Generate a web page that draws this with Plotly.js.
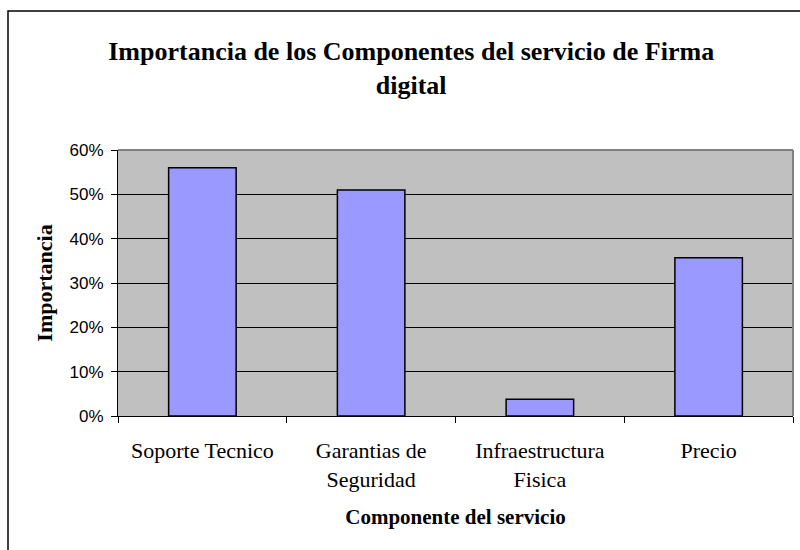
<!DOCTYPE html>
<html>
<head>
<meta charset="utf-8">
<script src="https://cdn.plot.ly/plotly-3.0.1.min.js"></script>
<style>
html,body{margin:0;padding:0;background:#fff;}
#chart{width:800px;height:550px;}
</style>
</head>
<body>
<div id="chart"></div>
<script>
var categories = ["Soporte Tecnico", "Garantias de<br>Seguridad", "Infraestructura<br>Fisica", "Precio"];
var values = [0.56, 0.51, 0.038, 0.357];
var yTickVals = [0, 0.1, 0.2, 0.3, 0.4, 0.5, 0.6];
var yTickText = ["0%", "10%", "20%", "30%", "40%", "50%", "60%"];

var serif = "Liberation Serif, Times New Roman, serif";
var sans = "Liberation Sans, Arial, sans-serif";

var trace = {
  type: "bar",
  x: categories,
  y: values,
  marker: {color: "#9999FF", line: {color: "#000000", width: 1.5}},
  hoverinfo: "skip"
};

var layout = {
  width: 800,
  height: 550,
  margin: {l: 118, r: 7, t: 150, b: 134, pad: 0},
  paper_bgcolor: "#ffffff",
  plot_bgcolor: "#C0C0C0",
  showlegend: false,
  bargap: 0.6,
  title: {
    text: "<b>Importancia de los Componentes del servicio de Firma<br>digital</b>",
    font: {family: serif, size: 26, color: "#000"},
    xref: "container", x: 0.514, xanchor: "center",
    yref: "container", y: 1 - 60/550, yanchor: "top"
  },
  xaxis: {
    type: "category",
    showline: true, linecolor: "#000", linewidth: 1,
    ticks: "outside", tickson: "boundaries", ticklen: 6, tickcolor: "#000",
    showgrid: false,
    tickfont: {family: serif, size: 22, color: "#000"},
    ticklabelstandoff: 15,
    title: {text: "<b>Componente del servicio</b>", font: {family: serif, size: 21, color: "#000"}, standoff: 18}
  },
  yaxis: {
    range: [0, 0.6],
    tickvals: yTickVals, ticktext: yTickText,
    showline: true, linecolor: "#000", linewidth: 1,
    ticks: "outside", ticklen: 6, tickcolor: "#000",
    ticklabelstandoff: 4,
    showgrid: true, gridcolor: "#000", gridwidth: 1,
    zeroline: false,
    tickfont: {family: sans, size: 17, color: "#000"},
    title: {text: "<b>Importancia</b>", font: {family: serif, size: 22, color: "#000"}, standoff: 10}
  },
  shapes: [
    {type: "line", xref: "paper", yref: "paper", x0: 0, x1: 1, y0: 1, y1: 1, line: {color: "#808080", width: 2}},
    {type: "line", xref: "paper", yref: "paper", x0: 1, x1: 1, y0: 0, y1: 1, line: {color: "#808080", width: 2}},
    {type: "rect", xref: "paper", yref: "paper", x0: (8-118)/675, x1: 1.3, y0: -1, y1: (416-11)/266, line: {color: "#000", width: 1.5}, fillcolor: "rgba(0,0,0,0)"}
  ]
};

Plotly.newPlot("chart", [trace], layout, {displayModeBar: false, staticPlot: true});
</script>
</body>
</html>
